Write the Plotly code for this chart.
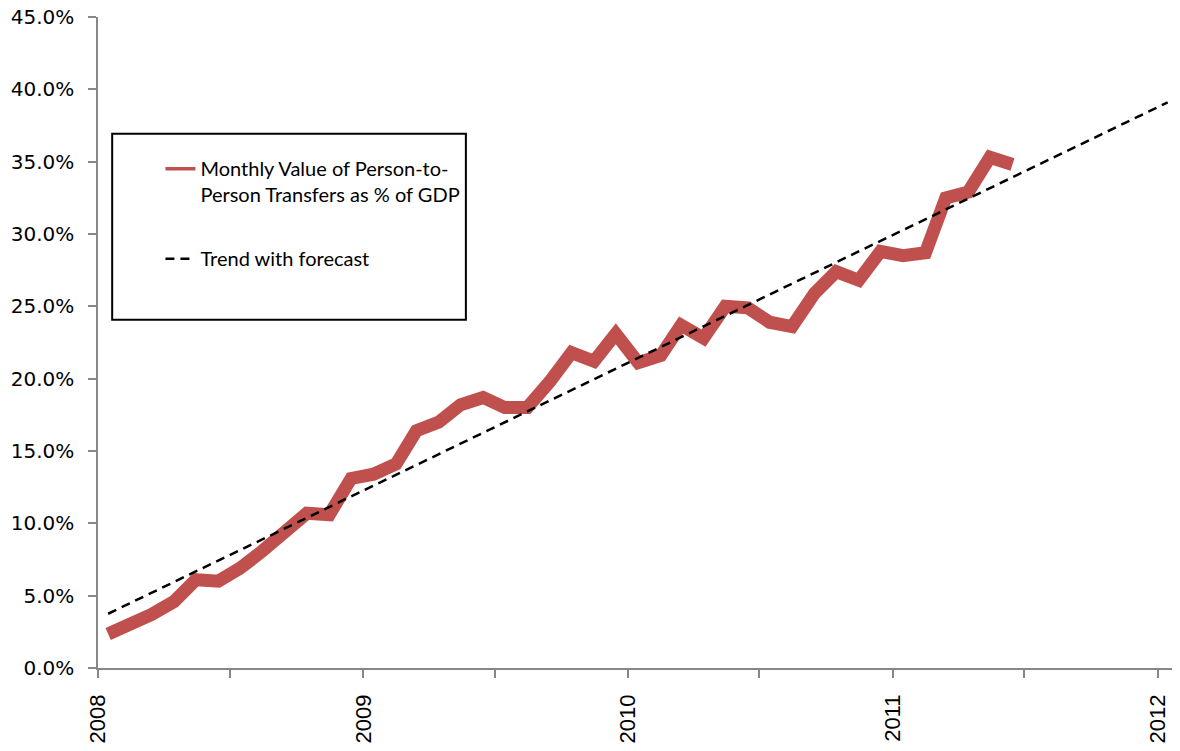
import plotly.graph_objects as go

# monthly data, Jan 2008 - Jun 2011 (points sit mid-month)
months = [
    "2008-01-15", "2008-02-15", "2008-03-15", "2008-04-15", "2008-05-15", "2008-06-15",
    "2008-07-15", "2008-08-15", "2008-09-15", "2008-10-15", "2008-11-15", "2008-12-15",
    "2009-01-15", "2009-02-15", "2009-03-15", "2009-04-15", "2009-05-15", "2009-06-15",
    "2009-07-15", "2009-08-15", "2009-09-15", "2009-10-15", "2009-11-15", "2009-12-15",
    "2010-01-15", "2010-02-15", "2010-03-15", "2010-04-15", "2010-05-15", "2010-06-15",
    "2010-07-15", "2010-08-15", "2010-09-15", "2010-10-15", "2010-11-15", "2010-12-15",
    "2011-01-15", "2011-02-15", "2011-03-15", "2011-04-15", "2011-05-15", "2011-06-15",
]
p2p_pct_gdp = [
    2.35, 2.95, 3.7, 4.6, 6.1, 6.0, 6.9, 8.1, 9.3, 10.7, 10.6, 13.1,
    13.4, 14.1, 16.4, 17.0, 18.2, 18.7, 18.0, 18.0, 19.8, 21.8, 21.2, 23.1,
    21.1, 21.6, 23.7, 22.8, 25.0, 24.9, 23.9, 23.6, 25.9, 27.4, 26.8, 28.8,
    28.5, 28.7, 32.5, 32.9, 35.3, 34.8,
]

# trend line endpoints (with forecast to Jan 2012)
trend_dates = ["2008-01-15", "2012-01-15"]
trend_vals = [3.75, 39.1]

# axis ticks
x_tickvals = ["2008-01-01", "2008-07-01", "2009-01-01", "2009-07-01", "2010-01-01",
              "2010-07-01", "2011-01-01", "2011-07-01", "2012-01-01"]
x_ticktext = ["2008", "", "2009", "", "2010", "", "2011", "", "2012"]
y_tickvals = [0, 5, 10, 15, 20, 25, 30, 35, 40, 45]
y_ticktext = ["0.0%", "5.0%", "10.0%", "15.0%", "20.0%", "25.0%",
              "30.0%", "35.0%", "40.0%", "45.0%"]

red = "#C0504D"
series_name = "Monthly Value of Person-to-<br>Person Transfers as % of GDP"

fig = go.Figure()
fig.add_trace(go.Scatter(
    x=months, y=p2p_pct_gdp, mode="lines", showlegend=False,
    line=dict(color=red, width=13),
))
# legend entry with a thin sample line
fig.add_trace(go.Scatter(
    x=[None], y=[None], mode="lines", name=series_name,
    legendgroup="a", line=dict(color=red, width=3.5),
))
fig.add_trace(go.Scatter(
    x=trend_dates, y=trend_vals, mode="lines",
    name="Trend with forecast", legendgroup="b",
    line=dict(color="black", width=2.5, dash="9px,6px"),
))

axis_col = "#878787"
fig.update_layout(
    width=1172, height=743,
    margin=dict(l=89.5, r=0, t=8.5, b=83),
    paper_bgcolor="white", plot_bgcolor="white",
    showlegend=True,
    legend=dict(
        x=0.0577, y=0.797, xanchor="left", yanchor="top",
        bgcolor="rgba(0,0,0,0)", borderwidth=0,
        font=dict(family="Lato", size=20, color="black"),
        tracegroupgap=35, valign="top",
    ),
    shapes=[dict(
        type="rect", xref="paper", yref="paper",
        x0=0.0131, x1=0.340, y0=0.535, y1=0.8207,
        line=dict(color="black", width=2), fillcolor="rgba(0,0,0,0)",
    )],
)
fig.update_xaxes(
    type="date", range=["2008-01-01", "2012-02-01"],
    tickvals=x_tickvals, ticktext=x_ticktext, tickangle=-90,
    ticks="outside", ticklen=8, tickcolor=axis_col, tickwidth=1.5,
    showline=True, linecolor=axis_col, linewidth=1.5,
    showgrid=False, zeroline=False, automargin=False,
    tickfont=dict(family="Liberation Sans", size=22, color="black"),
    ticklabelstandoff=8, ticklabeloverflow="allow",
)
fig.update_yaxes(
    range=[0, 45], tickvals=y_tickvals, ticktext=y_ticktext,
    ticks="outside", ticklen=8, tickcolor=axis_col, tickwidth=1.5,
    showline=True, linecolor=axis_col, linewidth=1.5,
    showgrid=False, zeroline=False, automargin=False,
    tickfont=dict(family="DejaVu Sans", size=20, color="black"),
    ticklabelstandoff=10, ticklabeloverflow="allow",
)

fig.write_html("out.html")
